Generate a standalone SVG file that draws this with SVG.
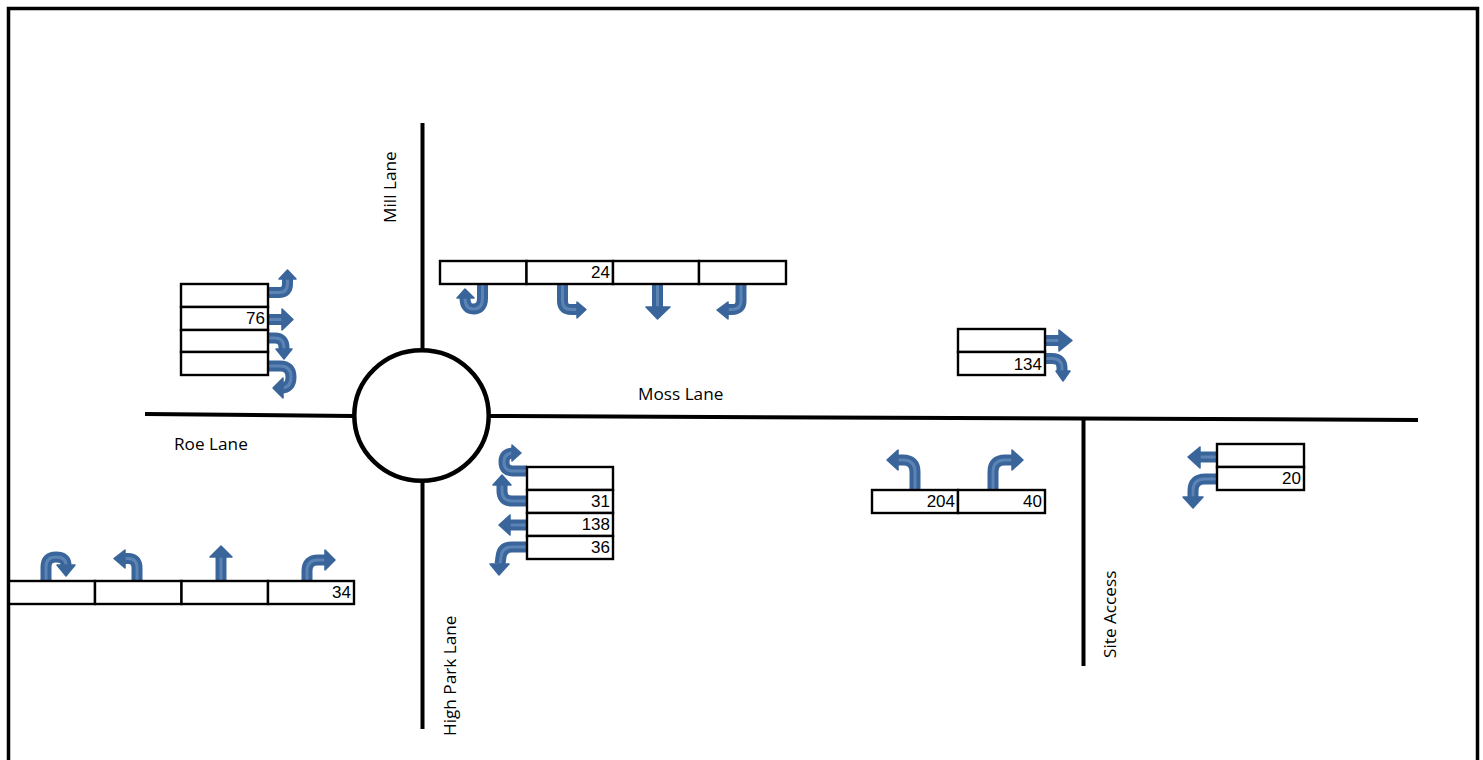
<svg xmlns="http://www.w3.org/2000/svg" width="1483" height="760" viewBox="0 0 1483 760">
<style>
.bd{fill:none;stroke:#000;stroke-width:3.500}
.rd{fill:none;stroke:#000;stroke-width:4}
.cell{fill:#fff;stroke:#000;stroke-width:2.400}
.o{fill:none;stroke:#3a659b;stroke-width:11}
.i{fill:none;stroke:#5b84b5;stroke-width:3}
.h{fill:#3a659b;stroke:#3a659b;stroke-width:1.500;stroke-linejoin:round}
.n{font:17px "Liberation Sans",Arial,sans-serif;fill:#000;text-anchor:end}
.l{font:17.200px "Open Sans",sans-serif;fill:#000}
</style>
<rect width="1483" height="760" fill="#fff"/>
<path class="bd" d="M8.500 760V8.500H1477.500V760"/>
<g id="connectors">
<path id="mill-lane" class="rd" d="M422.500 123V351"/>
<path id="high-park-lane" class="rd" d="M422.500 481V729"/>
<path id="roe-lane" class="rd" d="M145 414L353 416"/>
<path id="moss-lane" class="rd" d="M490 416L1418 420"/>
<path id="site-access" class="rd" d="M1083.500 419V666"/>
</g>
<g id="roundabout"><ellipse cx="421.500" cy="415.500" rx="67.200" ry="65.300" fill="#fff" stroke="#000" stroke-width="4.500"/></g>
<g id="labels">
<text class="l" x="638" y="400">Moss Lane</text>
<text class="l" x="174" y="450">Roe Lane</text>
<text class="l" transform="translate(396 223) rotate(-90)">Mill Lane</text>
<text class="l" transform="translate(456 736) rotate(-90)">High Park Lane</text>
<text class="l" transform="translate(1116 658) rotate(-90)">Site Access</text>
</g>
<g id="table-west">
<path class="o" d="M268 292.500H279Q287.500 292.500 287.500 284V278"/><path class="i" d="M268 292.500H279Q287.500 292.500 287.500 284V278"/><path class="h" d="M287.500 270L296 279H279Z"/>
<path class="o" d="M268 319.500H282"/><path class="i" d="M268 319.500H282"/><path class="h" d="M293 319.500L282 309V330Z"/>
<path class="o" d="M268 338H275Q284 338 284 348V350"/><path class="i" d="M268 338H275Q284 338 284 348V350"/><path class="h" d="M284 359L276 349H292Z"/>
<path class="o" d="M268 366H280Q291 366 291 377Q291 388 281 388H283"/><path class="i" d="M268 366H280Q291 366 291 377Q291 388 281 388H283"/><path class="h" d="M273 388L283 378V398Z"/>
<rect class="cell" x="181" y="284" width="87" height="23"/><rect class="cell" x="181" y="307" width="87" height="23"/><rect class="cell" x="181" y="330" width="87" height="22"/><rect class="cell" x="181" y="352" width="87" height="23"/>
<text class="n" x="265" y="324">76</text>
</g>
<g id="table-north">
<path class="o" d="M482.500 284V298Q482.500 309 473.500 309Q465 309 465 298"/><path class="i" d="M482.500 284V298Q482.500 309 473.500 309Q465 309 465 298"/><path class="h" d="M465 289L457 298H474Z"/>
<path class="o" d="M562.500 284V301Q562.500 309.500 571 309.500H577"/><path class="i" d="M562.500 284V301Q562.500 309.500 571 309.500H577"/><path class="h" d="M586 309.500L577 302V318Z"/>
<path class="o" d="M657.500 284V307"/><path class="i" d="M657.500 284V307"/><path class="h" d="M657.500 319L646 307H670Z"/>
<path class="o" d="M741 284V301Q741 309.500 732 309.500H728"/><path class="i" d="M741 284V301Q741 309.500 732 309.500H728"/><path class="h" d="M717 310L728 302V319Z"/>
<rect class="cell" x="440" y="261" width="86.500" height="23"/><rect class="cell" x="526.500" y="261" width="86.500" height="23"/><rect class="cell" x="613" y="261" width="86" height="23"/><rect class="cell" x="699" y="261" width="87" height="23"/>
<text class="n" x="610" y="278">24</text>
</g>
<g id="table-south-approach">
<path class="o" d="M527 471H513Q504 471 504 462Q504 453 513 453"/><path class="i" d="M527 471H513Q504 471 504 462Q504 453 513 453"/><path class="h" d="M521 453L512 445V461Z"/>
<path class="o" d="M527 501H512Q502 501 502 491V485"/><path class="i" d="M527 501H512Q502 501 502 491V485"/><path class="h" d="M502 475L493 485H511Z"/>
<path class="o" d="M527 525H510"/><path class="i" d="M527 525H510"/><path class="h" d="M499 525L510 515V535Z"/>
<path class="o" d="M527 547H512Q502 547 501 557L500 564"/><path class="i" d="M527 547H512Q502 547 501 557L500 564"/><path class="h" d="M499 575L490 564H509Z"/>
<rect class="cell" x="527" y="467" width="86" height="23"/><rect class="cell" x="527" y="490" width="86" height="23"/><rect class="cell" x="527" y="513" width="86" height="23"/><rect class="cell" x="527" y="536" width="86" height="23"/>
<text class="n" x="610" y="507">31</text><text class="n" x="610" y="530">138</text><text class="n" x="610" y="553">36</text>
</g>
<g id="table-southwest">
<path class="o" d="M46 581V567Q46 557 56 557Q66 557 66 565"/><path class="i" d="M46 581V567Q46 557 56 557Q66 557 66 565"/><path class="h" d="M66 576L57 565H75Z"/>
<path class="o" d="M137 581V568Q137 558.500 128 558.500H125"/><path class="i" d="M137 581V568Q137 558.500 128 558.500H125"/><path class="h" d="M114 558.500L125 550V568Z"/>
<path class="o" d="M221 581V557"/><path class="i" d="M221 581V557"/><path class="h" d="M221 546L210 557H232Z"/>
<path class="o" d="M307 581V571Q307 560 318 560H325"/><path class="i" d="M307 581V571Q307 560 318 560H325"/><path class="h" d="M335 560L325 550V570Z"/>
<rect class="cell" x="9" y="581" width="86" height="23"/><rect class="cell" x="95" y="581" width="86.500" height="23"/><rect class="cell" x="181.500" y="581" width="86.500" height="23"/><rect class="cell" x="268" y="581" width="86" height="23"/>
<text class="n" x="351" y="598">34</text>
</g>
<g id="table-site-exit">
<path class="o" d="M915 490V472Q915 460 903 460H898"/><path class="i" d="M915 490V472Q915 460 903 460H898"/><path class="h" d="M887 460L898 450V470Z"/>
<path class="o" d="M993 490V472Q993 460 1005 460H1012"/><path class="i" d="M993 490V472Q993 460 1005 460H1012"/><path class="h" d="M1023 460L1012 450V470Z"/>
<rect class="cell" x="872" y="490" width="86" height="23"/><rect class="cell" x="958" y="490" width="87" height="23"/>
<text class="n" x="955" y="507">204</text><text class="n" x="1042" y="507">40</text>
</g>
<g id="table-east">
<path class="o" d="M1217 457H1200"/><path class="i" d="M1217 457H1200"/><path class="h" d="M1188 457L1200 447V468Z"/>
<path class="o" d="M1218 479H1205Q1193 479 1193 491V497"/><path class="i" d="M1218 479H1205Q1193 479 1193 491V497"/><path class="h" d="M1193 508L1183 497H1203Z"/>
<rect class="cell" x="1217" y="444" width="87" height="23"/><rect class="cell" x="1217" y="467" width="87" height="23"/>
<text class="n" x="1301" y="484">20</text>
</g>
<g id="table-moss">
<path class="o" d="M1045 340.500H1059"/><path class="i" d="M1045 340.500H1059"/><path class="h" d="M1072 340.500L1059 330V351Z"/>
<path class="o" d="M1045 358.500H1052Q1062 358.500 1062 368V371"/><path class="i" d="M1045 358.500H1052Q1062 358.500 1062 368V371"/><path class="h" d="M1063 381L1056 371H1070Z"/>
<rect class="cell" x="958" y="329" width="87" height="23"/><rect class="cell" x="958" y="352" width="87" height="23"/>
<text class="n" x="1042" y="370">134</text>
</g>
</svg>
